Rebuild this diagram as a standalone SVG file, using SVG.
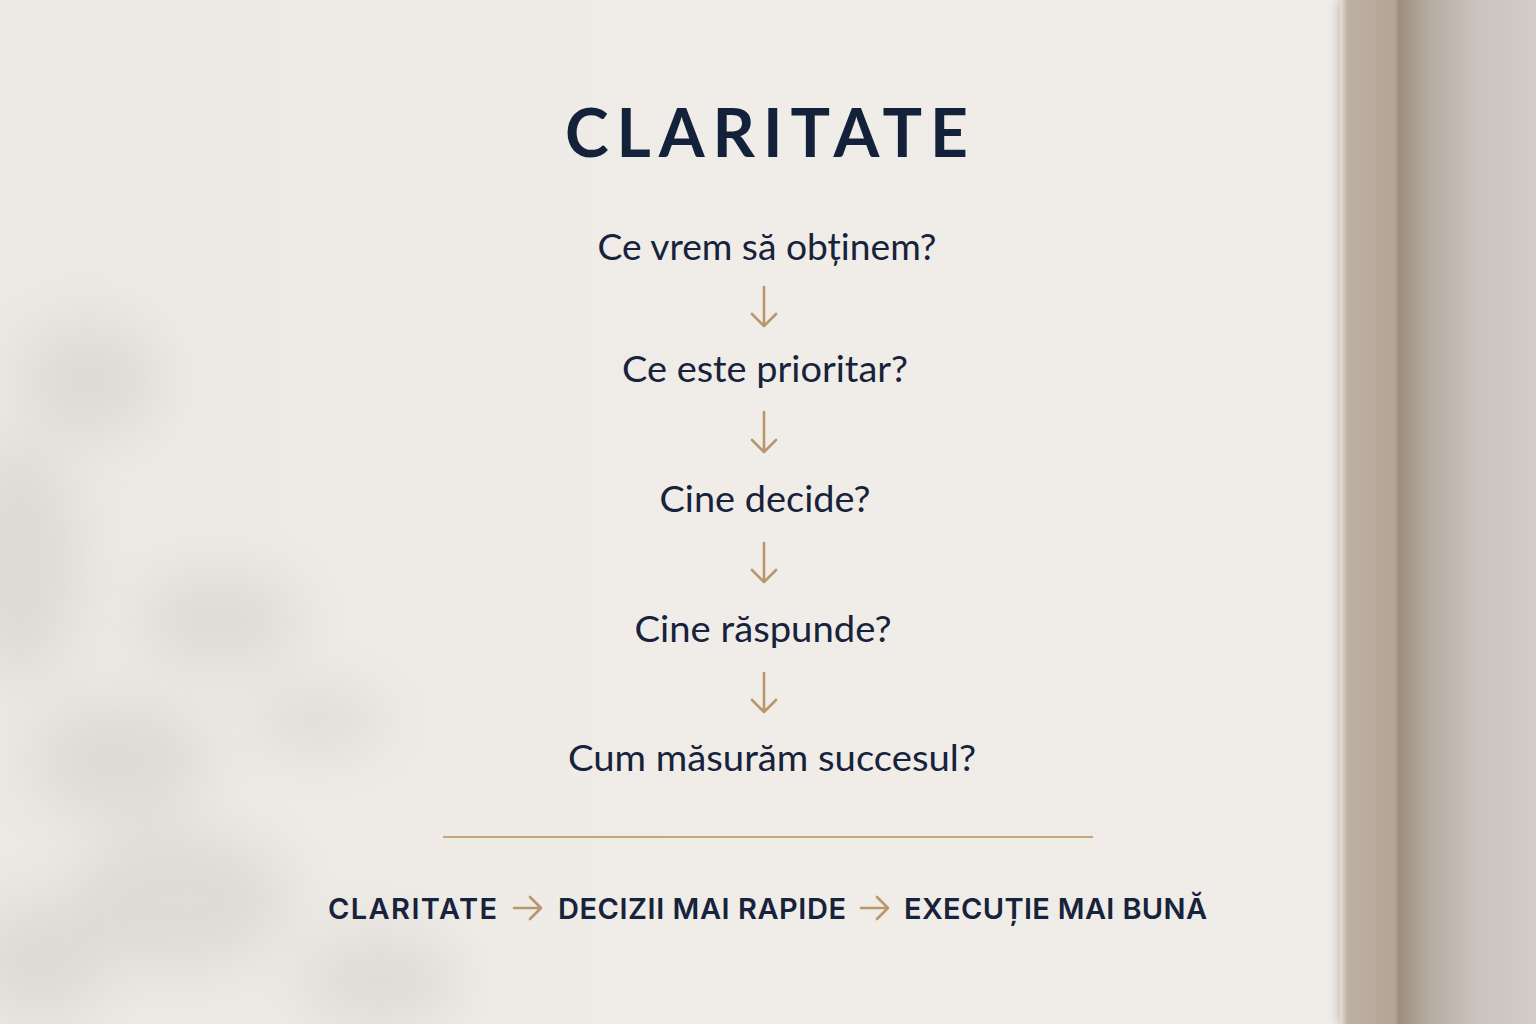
<svg xmlns="http://www.w3.org/2000/svg" width="1536" height="1024" viewBox="0 0 1536 1024">
<defs>
<linearGradient id="wall" x1="0" y1="0" x2="1" y2="0">
<stop offset="0" stop-color="#ece8e4"/>
<stop offset="0.5" stop-color="#f0ece8"/>
<stop offset="1" stop-color="#efebe7"/>
</linearGradient>
<linearGradient id="edge" x1="0" y1="0" x2="1" y2="0">
<stop offset="0" stop-color="#e6e0da"/>
<stop offset="0.04" stop-color="#bdb0a2"/>
<stop offset="0.28" stop-color="#b4a596"/>
<stop offset="0.30" stop-color="#9e8e7e"/>
<stop offset="0.45" stop-color="#b5aaa0"/>
<stop offset="0.7" stop-color="#cbc3bd"/>
<stop offset="1" stop-color="#d3ccc8"/>
</linearGradient>
<filter id="blur" x="-50%" y="-50%" width="200%" height="200%"><feGaussianBlur stdDeviation="28"/></filter>
<filter id="blur2" x="-10%" y="-10%" width="120%" height="120%"><feGaussianBlur stdDeviation="4"/></filter>
<style>
.q{font-family:"Lato","Noto Sans",sans-serif;font-size:37px;fill:#17223b;text-anchor:middle}
.t{font-family:"Lato","Noto Sans",sans-serif;font-weight:700;font-size:66px;fill:#14213b}
.b{font-family:"Inter","Lato",sans-serif;font-weight:600;font-size:29px;fill:#17223b}
.arr{fill:none;stroke:#b8976a;stroke-width:2.6;stroke-linecap:round;stroke-linejoin:round}
</style>
</defs>
<rect width="1536" height="1024" fill="url(#wall)"/>
<g opacity="0.13" filter="url(#blur)" fill="#7f7a75">
<ellipse cx="90" cy="380" rx="70" ry="60"/>
<ellipse cx="20" cy="560" rx="60" ry="120"/>
<ellipse cx="220" cy="620" rx="80" ry="50"/>
<ellipse cx="320" cy="720" rx="70" ry="30"/>
<ellipse cx="120" cy="760" rx="90" ry="60"/>
<ellipse cx="180" cy="900" rx="110" ry="70"/>
<ellipse cx="380" cy="980" rx="80" ry="50"/>
<ellipse cx="40" cy="960" rx="70" ry="60"/>
</g>
<rect x="1336" y="0" width="200" height="1024" fill="url(#edge)" filter="url(#blur2)"/>
<rect x="1340" y="0" width="196" height="1024" fill="url(#edge)"/>
<g id="title"><text class="t" x="565" y="157" textLength="403" lengthAdjust="spacing">CLARITATE</text></g>
<g id="q1"><text class="q" x="767" y="260" textLength="339" lengthAdjust="spacingAndGlyphs">Ce vrem să obținem?</text></g>
<g id="q2"><text class="q" x="765" y="382" textLength="286" lengthAdjust="spacingAndGlyphs">Ce este prioritar?</text></g>
<g id="q3"><text class="q" x="765" y="512" textLength="211" lengthAdjust="spacingAndGlyphs">Cine decide?</text></g>
<g id="q4"><text class="q" x="763" y="642" textLength="257" lengthAdjust="spacingAndGlyphs">Cine răspunde?</text></g>
<g id="q5"><text class="q" x="772" y="771" textLength="408" lengthAdjust="spacingAndGlyphs">Cum măsurăm succesul?</text></g>
<g id="connectors">
<path class="arr" d="M764 287V326M752 314L764 326L776 314"/>
<path class="arr" d="M764 412V452M752 440L764 452L776 440"/>
<path class="arr" d="M764 543V582M752 570L764 582L776 570"/>
<path class="arr" d="M764 673V712M752 700L764 712L776 700"/>
<path class="arr" d="M514 908H541M530 897L541 908L530 919"/>
<path class="arr" d="M861 908H888M877 897L888 908L877 919"/>
</g>
<line x1="443" y1="837" x2="1093" y2="837" stroke="#c4a679" stroke-width="2"/>
<g id="b1"><text class="b" x="328" y="919" textLength="169" lengthAdjust="spacing">CLARITATE</text></g>
<g id="b2"><text class="b" x="558" y="919" textLength="288" lengthAdjust="spacing">DECIZII MAI RAPIDE</text></g>
<g id="b3"><text class="b" x="904" y="919" textLength="303" lengthAdjust="spacing">EXECUȚIE MAI BUNĂ</text></g>
</svg>
